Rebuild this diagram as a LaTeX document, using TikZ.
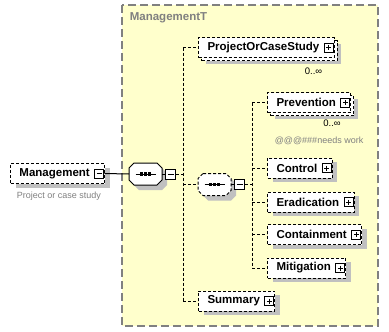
\documentclass[tikz,border=0pt]{standalone}
\usepackage{fontspec}
\setmainfont{Liberation Sans}
\usetikzlibrary{shadows}

\definecolor{typefill}{HTML}{FFFFCC}
\definecolor{annot}{HTML}{808080}
\definecolor{shadowgray}{HTML}{C0C0C0}

\tikzset{
    box/.style={rectangle, draw, dash pattern=on 3pt off 2pt, fill=white, anchor=west,
        minimum height=20pt, inner xsep=9pt, inner ysep=0pt,
        font=\fontsize{11.5}{13}\selectfont\bfseries, execute at end node={\hspace{6pt}}},
    elem/.style={box, drop shadow={shadow xshift=5pt, shadow yshift=-4pt, opacity=1, fill=shadowgray}},
    melem/.style={box, drop shadow={shadow xshift=7pt, shadow yshift=-6pt, opacity=1, fill=shadowgray},
        general shadow={shadow xshift=3pt, shadow yshift=-3pt, draw=black, fill=white}},
    seq/.style={rectangle, anchor=west, minimum width=32pt, minimum height=21pt, inner sep=0pt},
    seqshade/.style={fill=shadowgray, transform canvas={shift={(5pt,-5pt)}}},
    seqsolid/.style={draw, solid, fill=white},
    seqdashed/.style={draw, dash pattern=on 3pt off 2pt, fill=white},
    toggle/.style={rectangle, draw, solid, fill=white, minimum size=#1, inner sep=0pt, anchor=east},
    expand/.style={toggle=#1, path picture={
            \draw ([xshift=2pt]path picture bounding box.west) -- ([xshift=-2pt]path picture bounding box.east)
                  ([yshift=-2pt]path picture bounding box.north) -- ([yshift=2pt]path picture bounding box.south);}},
    collapse/.style={toggle=#1, path picture={
            \draw ([xshift=2pt]path picture bounding box.west) -- ([xshift=-2pt]path picture bounding box.east);}},
    link/.style={draw, dash pattern=on 3pt off 2pt},
    note/.style={anchor=west, text=annot, font=\fontsize{9}{11}\selectfont},
    occurs/.style={font=\fontsize{9.5}{11}\selectfont},
}

% octagon round a compositor node, with the "sequence" mark inside
\newcommand{\seqbox}[2]{
    \foreach \opt in {seqshade,#2}
        \path[\opt]
            ([xshift=5pt]#1.north west) -- ([xshift=-5pt]#1.north east) -- ([yshift=-5pt]#1.north east)
            -- ([yshift=5pt]#1.south east) -- ([xshift=-5pt]#1.south east) -- ([xshift=5pt]#1.south west)
            -- ([yshift=5pt]#1.south west) -- ([yshift=-5pt]#1.north west) -- cycle;
    \draw (#1.center) +(-10,0) -- +(10,0);
    \foreach \d in {-4,0,4}
        \fill ([xshift=\d pt]#1.center) +(-1.6,-1.6) rectangle +(1.6,1.6);
}

\begin{document}
\begin{tikzpicture}[x=1pt, y=-1pt, line width=1pt]
    \useasboundingbox (0,0) rectangle (389,332);

    % complex type frame
    \draw[draw=annot, fill=typefill, line width=1.5pt, dash pattern=on 8pt off 4pt] (122,5) rectangle (378,326);
    \node[anchor=west, text=annot, font=\fontsize{11.5}{13}\selectfont\bfseries] (typename) at (126,17.5) {ManagementT};

    % root element
    \node[elem] (mgmt) at (10,173.5) {Management};
    \node[collapse=9pt] (mgmt-x) at ([xshift=-1pt]mgmt.east) {};
    \node[note] (mgmt-doc) at (13,196.5) {Project or case study};

    % sequences
    \node[seq] (seq1) at (129,174) {};
    \seqbox{seq1}{seqsolid}
    \node[collapse=10pt, anchor=west] (seq1-x) at ([xshift=3pt]seq1.east) {};
    \draw (seq1.east) -- (seq1-x.west);
    \node[seq] (seq2) at (198,184.5) {};
    \seqbox{seq2}{seqdashed}
    \node[collapse=10pt, anchor=west] (seq2-x) at ([xshift=3pt]seq2.east) {};
    \draw (seq2.east) -- (seq2-x.west);

    % children of the outer sequence
    \node[melem] (pocs) at (198,47.5) {ProjectOrCaseStudy};
    \node[expand=9pt] (pocs-x) at ([xshift=-1pt]pocs.east) {};
    \node[occurs] (pocs-occ) at (313.5,71) {0..∞};
    \node[elem] (summary) at (198,301) {Summary};
    \node[expand=9pt] (summary-x) at ([xshift=-1pt]summary.east) {};

    % children of the inner sequence
    \node[melem] (prevention) at (267,102.5) {Prevention};
    \node[expand=9pt] (prevention-x) at ([xshift=-1pt]prevention.east) {};
    \node[occurs] (prevention-occ) at (332,123.5) {0..∞};
    \node[note] (prevention-doc) at (271,141) {@@@\#\#\#needs work};
    \node[elem] (control) at (267,168) {Control};
    \node[expand=9pt] (control-x) at ([xshift=-1pt]control.east) {};
    \node[elem] (eradication) at (267,202) {Eradication};
    \node[expand=9pt] (eradication-x) at ([xshift=-1pt]eradication.east) {};
    \node[elem] (containment) at (267,234.5) {Containment};
    \node[expand=9pt] (containment-x) at ([xshift=-1pt]containment.east) {};
    \node[elem] (mitigation) at (267,268) {Mitigation};
    \node[expand=9pt] (mitigation-x) at ([xshift=-1pt]mitigation.east) {};

    % connectors
    \coordinate (spine1) at (183,0);
    \coordinate (spine2) at (252,0);
    \draw (mgmt-x.east) -- (seq1.west);
    \draw[link] (seq1-x.east) -- (seq1-x.east -| spine1);
    \draw[link] (pocs.west -| spine1) -- (summary.west -| spine1);
    \foreach \n in {pocs,seq2,summary}
        \draw[link] (\n.west -| spine1) -- (\n.west);
    \draw[link] (seq2-x.east) -- (seq2-x.east -| spine2);
    \draw[link] (prevention.west -| spine2) -- (mitigation.west -| spine2);
    \foreach \n in {prevention,control,eradication,containment,mitigation}
        \draw[link] (\n.west -| spine2) -- (\n.west);
\end{tikzpicture}
\end{document}
